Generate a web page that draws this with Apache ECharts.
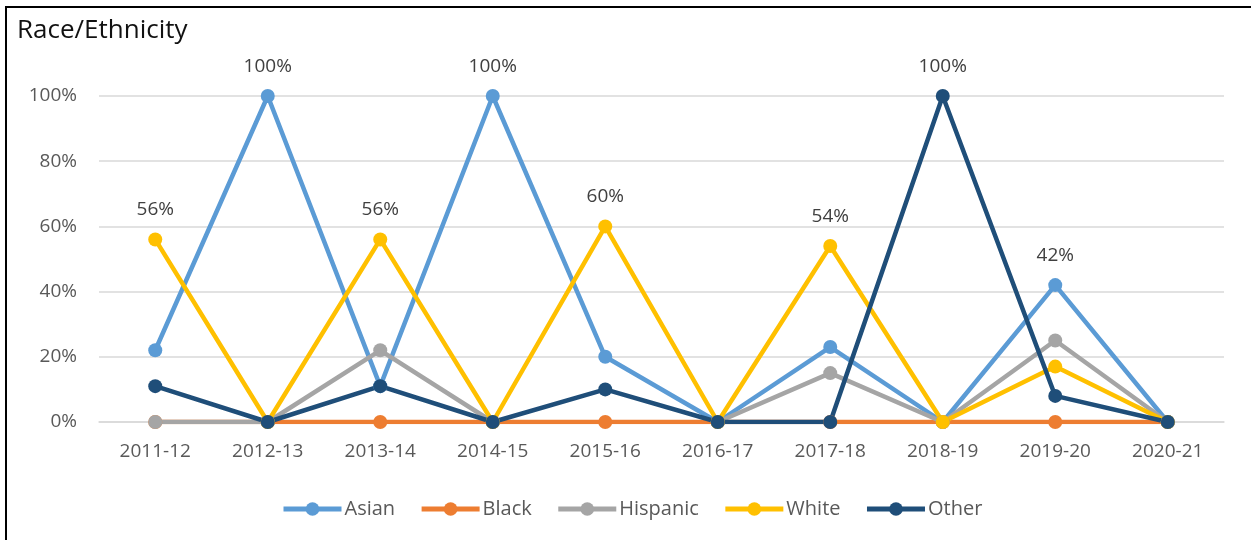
<!DOCTYPE html>
<html>
<head>
<meta charset="utf-8">
<title>Race/Ethnicity</title>
<script src="https://cdn.jsdelivr.net/npm/echarts@6/dist/echarts.min.js"></script>
<style>
  html, body { margin: 0; padding: 0; background: #ffffff; }
  #chart { width: 1251px; height: 540px; }
</style>
</head>
<body>
<div id="chart"></div>
<script>
// School years on the category axis
const years = ['2011-12', '2012-13', '2013-14', '2014-15', '2015-16',
               '2016-17', '2017-18', '2018-19', '2019-20', '2020-21'];

// Share of each group per year, in percent (null = no value reported)
const asian    = [22, 100, 11, 100, 20, 0, 23, 0, 42, 0];
const black    = [0, 0, 0, 0, 0, 0, 0, 0, 0, 0];
const hispanic = [0, 0, 22, 0, null, 0, 15, 0, 25, 0];
const white    = [56, 0, 56, 0, 60, 0, 54, 0, 17, 0];
const other    = [11, 0, 11, 0, 10, 0, 0, 100, 8, 0];

// Years whose value is printed above the point, per series
const asianLabelled = ['2012-13', '2014-15', '2019-20'];
const whiteLabelled = ['2011-12', '2013-14', '2015-16', '2017-18'];
const otherLabelled = ['2018-19'];

const yTicks = [0, 20, 40, 60, 80, 100];

const FONT = '"Open Sans", "Noto Sans", sans-serif';

function makeSeries(name, values, color, labelled) {
  return {
    name: name,
    type: 'line',
    data: values,
    connectNulls: false,
    symbol: 'circle',
    symbolSize: 14,
    showSymbol: true,
    showAllSymbol: true,
    animation: false,
    lineStyle: { width: 4.5, color: color },
    itemStyle: { color: color },
    emphasis: { disabled: true },
    label: {
      show: labelled.length > 0,
      position: 'top',
      distance: 13,
      fontFamily: FONT,
      fontSize: 19,
      color: '#404040',
      formatter: function (p) {
        return labelled.indexOf(years[p.dataIndex]) >= 0 ? p.value + '%' : '';
      }
    }
  };
}

const chart = echarts.init(document.getElementById('chart'), null, { renderer: 'canvas' });

chart.setOption({
  backgroundColor: '#ffffff',
  animation: false,
  textStyle: { fontFamily: FONT },
  title: {
    text: 'Race/Ethnicity',
    left: 12,
    top: 13,
    textStyle: { fontFamily: FONT, fontSize: 26, fontWeight: 'normal', color: '#111111' }
  },
  graphic: [{
    type: 'rect',
    shape: { x: 6, y: 7, width: 1400, height: 700 },
    style: { fill: 'none', stroke: '#000000', lineWidth: 2 },
    silent: true,
    z: 100
  }],
  grid: { left: 99, right: 27, top: 96, bottom: 118, containLabel: false },
  legend: {
    left: 276,
    top: 494,
    itemWidth: 58,
    itemHeight: 17,
    itemGap: 24,
    lineStyle: { width: 5 },
    textStyle: { fontFamily: FONT, fontSize: 20, color: '#595959', padding: [0, 0, 0, -2] },
    data: ['Asian', 'Black', 'Hispanic', 'White', 'Other']
  },
  xAxis: {
    type: 'category',
    data: years,
    boundaryGap: true,
    axisLine: { show: true, lineStyle: { color: '#d9d9d9', width: 1.5 } },
    axisTick: { show: false },
    axisLabel: { fontFamily: FONT, fontSize: 19, color: '#595959', margin: 20 }
  },
  yAxis: {
    type: 'value',
    min: yTicks[0],
    max: yTicks[yTicks.length - 1],
    interval: yTicks[1] - yTicks[0],
    axisLine: { show: false },
    axisTick: { show: false },
    splitLine: { lineStyle: { color: '#d9d9d9', width: 1.5 } },
    axisLabel: { fontFamily: FONT, fontSize: 19, color: '#595959', margin: 22,
                 formatter: '{value}%' }
  },
  series: [
    makeSeries('Asian', asian, '#5B9BD5', asianLabelled),
    makeSeries('Black', black, '#ED7D31', []),
    makeSeries('Hispanic', hispanic, '#A5A5A5', []),
    makeSeries('White', white, '#FFC000', whiteLabelled),
    makeSeries('Other', other, '#1F4E79', otherLabelled)
  ]
});
</script>
</body>
</html>
